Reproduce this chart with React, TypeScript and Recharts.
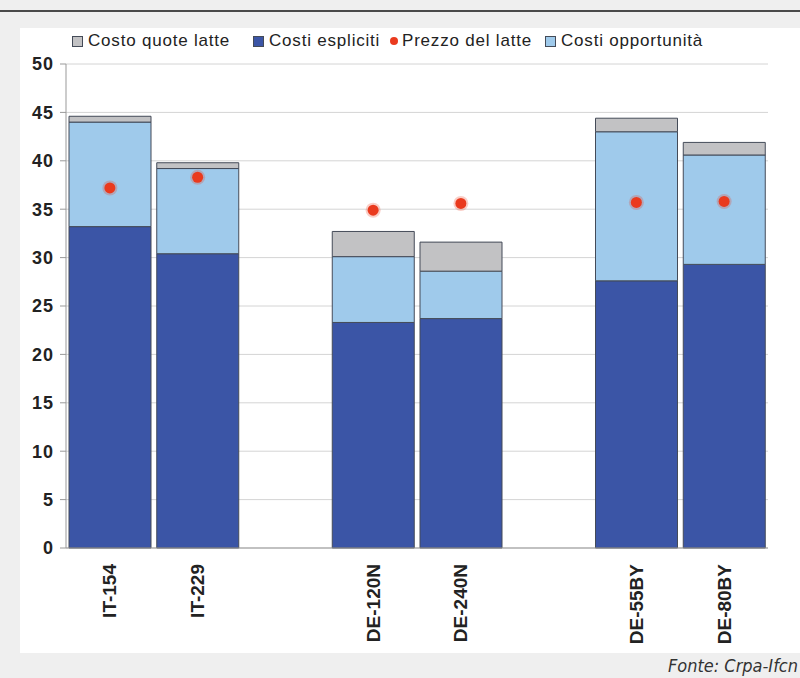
import {
  Bar,
  CartesianGrid,
  ComposedChart,
  Legend,
  Line,
  XAxis,
  YAxis,
} from "recharts";

// aziende a confronto (slot vuoti per separare i gruppi di paesi)
const farms = ["IT-154", "IT-229", "", "DE-120N", "DE-240N", " ", "DE-55BY", "DE-80BY"];
const costiEspliciti = [33.2, 30.4, null, 23.3, 23.7, null, 27.6, 29.3];
const costiOpportunita = [10.8, 8.8, null, 6.8, 4.9, null, 15.4, 11.3];
const costoQuote = [0.6, 0.6, null, 2.6, 3.0, null, 1.4, 1.3];
const prezzoLatte = [37.2, 38.3, null, 34.9, 35.6, null, 35.7, 35.8];
const yTicks = [0, 5, 10, 15, 20, 25, 30, 35, 40, 45, 50];

const DARK_BLUE = "#3b55a6";
const LIGHT_BLUE = "#9fcaeb";
const GREY = "#c2c2c4";
const RED = "#ea3a1e";
const OUTLINE = "#444b58";

const data = farms.map((name, i) => ({
  name,
  espliciti: costiEspliciti[i],
  opportunita: costiOpportunita[i],
  quote: costoQuote[i],
  prezzo: prezzoLatte[i],
}));

// voci della legenda con la loro posizione orizzontale
const legendItems = [
  { label: "Costo quote latte", color: GREY, shape: "square", x: 72 },
  { label: "Costi espliciti", color: DARK_BLUE, shape: "square", x: 253 },
  { label: "Prezzo del latte", color: RED, shape: "dot", x: 390 },
  { label: "Costi opportunità", color: LIGHT_BLUE, shape: "square", x: 545 },
];

const renderLegend = () => (
  <div
    style={{
      position: "relative",
      width: 800,
      height: 24,
      fontFamily: "'Liberation Sans', Arial, sans-serif",
      fontSize: 17,
      letterSpacing: 0.8,
      color: "#222",
    }}
  >
    {legendItems.map((it) => (
      <div
        key={it.label}
        style={{
          position: "absolute",
          left: it.x,
          top: 0,
          height: 24,
          display: "flex",
          alignItems: "center",
          whiteSpace: "nowrap",
        }}
      >
        {it.shape === "square" ? (
          <span
            style={{
              width: 9,
              height: 9,
              background: it.color,
              border: `1px solid ${OUTLINE}`,
              marginRight: 5,
            }}
          />
        ) : (
          <span
            style={{
              width: 8,
              height: 8,
              borderRadius: 4,
              background: it.color,
              marginRight: 4,
            }}
          />
        )}
        <span>{it.label}</span>
      </div>
    ))}
  </div>
);

const FarmTick = (props: any) => {
  const { x, y, payload } = props;
  const ty = y + 8;
  return (
    <text
      x={x}
      y={ty}
      transform={`rotate(-90, ${x}, ${ty})`}
      textAnchor="end"
      dominantBaseline="central"
      fontSize={19}
      fontWeight={700}
      fill="#222"
      fontFamily="'Liberation Sans', Arial, sans-serif"
    >
      {payload.value}
    </text>
  );
};

const PriceDot = (props: any) => {
  const { cx, cy, value } = props;
  if (value == null || cx == null || cy == null) return null;
  return (
    <g>
      <circle cx={cx} cy={cy} r={7.5} fill={RED} opacity={0.25} />
      <circle cx={cx} cy={cy} r={5.5} fill={RED} />
    </g>
  );
};

export default function App() {
  return (
    <div
      style={{
        position: "fixed",
        left: 0,
        top: 0,
        width: 800,
        height: 678,
        background: "#efefef",
        overflow: "hidden",
      }}
    >
      <div style={{ position: "absolute", left: 0, top: 10, width: 800, height: 1.5, background: "#4a4a4a" }} />
      <div style={{ position: "absolute", left: 20, top: 28, width: 780, height: 625, background: "#fff" }} />
      <div style={{ position: "absolute", left: 0, top: 0 }}>
        <ComposedChart
          width={800}
          height={678}
          data={data}
          margin={{ top: 40, right: 32, left: 26, bottom: 30 }}
          barCategoryGap={3}
        >
          <Legend verticalAlign="top" content={renderLegend} wrapperStyle={{ top: 29, left: 0, width: 800 }} />
          <CartesianGrid vertical={false} stroke="#d4d4d4" />
          <XAxis
            dataKey="name"
            height={100}
            interval={0}
            tick={<FarmTick />}
            tickLine={false}
            axisLine={{ stroke: "#999" }}
          />
          <YAxis
            domain={[0, 50]}
            ticks={yTicks}
            width={40}
            tickSize={6}
            tickMargin={6}
            axisLine={{ stroke: "#999" }}
            tickLine={{ stroke: "#999" }}
            tick={{
              fontSize: 18,
              fontWeight: 700,
              fill: "#222",
              letterSpacing: 1,
              fontFamily: "'Liberation Sans', Arial, sans-serif",
            }}
          />
          <YAxis
            yAxisId="border"
            orientation="right"
            width={0}
            tick={false}
            tickLine={false}
            axisLine={{ stroke: "#aaa" }}
          />
          <Bar dataKey="espliciti" name="Costi espliciti" stackId="c" fill={DARK_BLUE} stroke={OUTLINE} strokeWidth={1} isAnimationActive={false} />
          <Bar dataKey="opportunita" name="Costi opportunità" stackId="c" fill={LIGHT_BLUE} stroke={OUTLINE} strokeWidth={1} isAnimationActive={false} />
          <Bar dataKey="quote" name="Costo quote latte" stackId="c" fill={GREY} stroke={OUTLINE} strokeWidth={1} isAnimationActive={false} />
          <Line
            dataKey="prezzo"
            name="Prezzo del latte"
            stroke="none"
            dot={<PriceDot />}
            activeDot={false}
            isAnimationActive={false}
          />
        </ComposedChart>
      </div>
      <div
        style={{
          position: "absolute",
          right: 2,
          top: 655,
          whiteSpace: "nowrap",
          fontFamily: "'Liberation Sans Narrow', 'DejaVu Sans Condensed', sans-serif",
          fontStyle: "italic",
          fontSize: 18,
          color: "#333",
        }}
      >
        Fonte: Crpa-Ifcn
      </div>
    </div>
  );
}
